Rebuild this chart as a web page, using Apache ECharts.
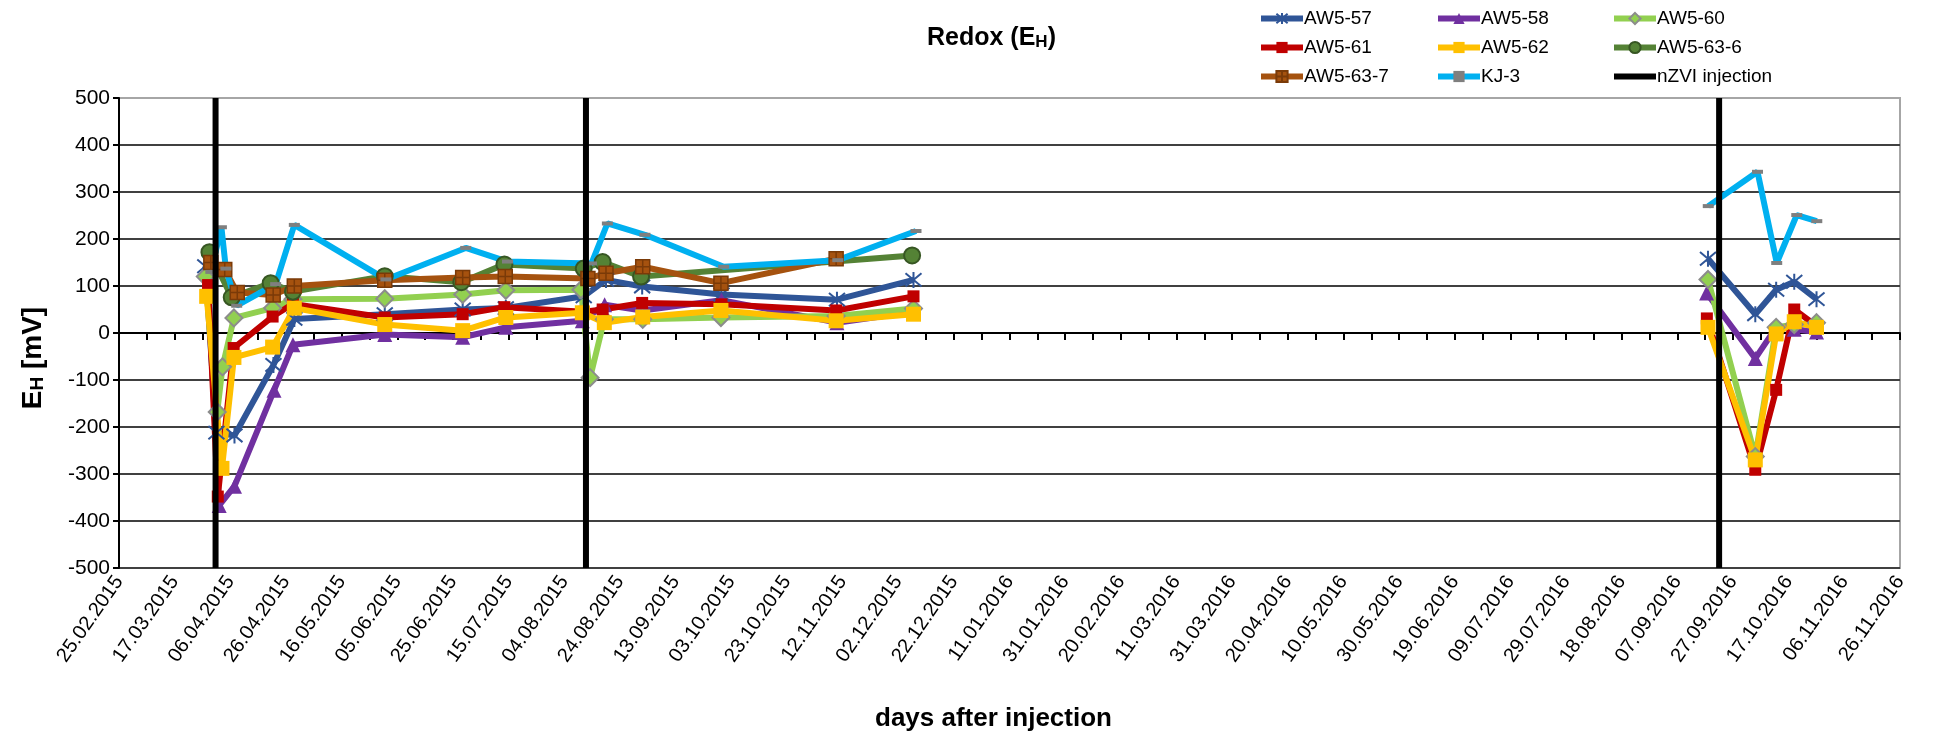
<!DOCTYPE html>
<html>
<head>
<meta charset="utf-8">
<title>Redox (EH)</title>
<script src="https://cdn.jsdelivr.net/npm/echarts@6/dist/echarts.min.js"></script>
<style>
  html, body { margin: 0; padding: 0; background: #fff; }
  #chart { width: 1939px; height: 737px; }
</style>
</head>
<body>
<div id="chart"></div>
<script>
// x = days after 25.02.2015 (first tick of the axis), y = EH in mV
// '-' breaks the line between the 2015 and 2016 campaigns
const xTickLabels = [
  '25.02.2015', '17.03.2015', '06.04.2015', '26.04.2015', '16.05.2015', '05.06.2015',
  '25.06.2015', '15.07.2015', '04.08.2015', '24.08.2015', '13.09.2015', '03.10.2015',
  '23.10.2015', '12.11.2015', '02.12.2015', '22.12.2015', '11.01.2016', '31.01.2016',
  '20.02.2016', '11.03.2016', '31.03.2016', '20.04.2016', '10.05.2016', '30.05.2016',
  '19.06.2016', '09.07.2016', '29.07.2016', '18.08.2016', '07.09.2016', '27.09.2016',
  '17.10.2016', '06.11.2016', '26.11.2016'
]

const injectionDays = [34.7, 167.8, 575]

const aw557 = [
  [31, 142], [35, -212], [41.5, -218], [55.5, -68], [63, 30], [95.5, 40], [123.5, 50],
  [139, 53], [167, 78], [175, 113], [188, 99], [216.5, 82], [258, 71], [285.5, 113], '-',
  [571, 158], [588, 40], [595.5, 92], [602, 109], [610, 72]
]
const aw558 = [
  [32, 103], [36, -367], [41.5, -326], [55.7, -122], [62.5, -25], [95.5, -3], [123.5, -9],
  [139, 12], [166.5, 26], [174.5, 60], [188, 48], [216.5, 70], [258, 22], [285.5, 45], '-',
  [570.5, 85], [588, -54], [595.5, 12], [602, 8], [610, 2]
]
const aw560 = [
  [31, 120], [35.3, -168], [37.2, -72], [41.3, 32], [55.2, 53], [62.5, 72], [95.5, 73],
  [123.5, 82], [139, 91], [166, 92], [169.3, -95], [174.4, 29], [188.2, 29], [216.3, 33],
  [257.7, 36], [285.5, 52], '-',
  [571, 114], [588, -263], [595.5, 12], [602, 18], [610, 22]
]
const aw561 = [
  [32, 102], [35.5, -348], [41.2, -32], [55.2, 35], [62.5, 62], [95.5, 33], [123.5, 40],
  [138.5, 55], [167, 45], [173.8, 50], [188, 64], [216.5, 61], [257.7, 48], [285.5, 78], '-',
  [570.6, 31], [588, -291], [595.5, -121], [602, 50], [610, 15]
]
const aw562 = [
  [31.5, 78], [37, -288], [41.3, -52], [55.2, -30], [63, 53], [95.5, 18], [123.5, 5],
  [139, 33], [166.5, 43], [174.4, 22], [188.2, 34], [216.3, 48], [257.7, 26], [285.5, 40], '-',
  [571, 12], [588, -270], [595.5, -2], [602, 24], [610, 12]
]
const aw5636 = [
  [32.5, 172], [40.5, 76], [54.5, 106], [62.5, 88], [95.5, 121], [123, 108], [138.5, 146],
  [167, 137], [173.8, 151], [187.6, 120], [285, 165]
]
const aw5637 = [
  [33, 150], [38, 135], [42.5, 86], [55.4, 81], [63, 100], [95.5, 112], [123.5, 118],
  [138.8, 120], [168.5, 116], [175, 127], [188.2, 141], [216.3, 106], [257.7, 158]
]
const kj3 = [
  [33, 130], [36.8, 225], [38.4, 137], [42.3, 58], [56.3, 104], [63, 230], [95.9, 114],
  [124.6, 181], [139.6, 152], [169.8, 148], [175.5, 233], [189, 209], [217.3, 141],
  [258.3, 155], [286.4, 217], '-',
  [571.1, 270], [588.8, 343], [595.7, 149], [602.9, 251], [610.1, 238]
]

const chart = echarts.init(document.getElementById('chart'))

const FONT = 'Liberation Sans'

// one line series with its marker
const makeSeries = (name, data, color, symbol, size, itemStyle) => ({
  name,
  type: 'line',
  data,
  connectNulls: false,
  symbol,
  symbolSize: size,
  showAllSymbol: true,
  lineStyle: { color, width: 6 },
  itemStyle: Object.assign({ color }, itemStyle || {}),
  z: 3
})

const asterisk = 'path://M0,0L10,10M10,0L0,10M5,-1L5,11'
const crossBox = 'path://M0,0H10V10H0Z M5,0V10 M0,5H10'

const series = [
  makeSeries('AW5-57', aw557, '#2F5597', asterisk, 16,
    { color: '#2F5597', borderColor: '#2F5597', borderWidth: 2 }),
  makeSeries('AW5-58', aw558, '#7030A0', 'triangle', 15),
  makeSeries('AW5-60', aw560, '#92D050', 'diamond', 17,
    { color: '#92D050', borderColor: '#8C8C8C', borderWidth: 2 }),
  makeSeries('AW5-61', aw561, '#C00000', 'rect', 12),
  makeSeries('AW5-62', aw562, '#FFC000', 'rect', 15),
  makeSeries('AW5-63-6', aw5636, '#548235', 'circle', 16,
    { color: '#548235', borderColor: '#375623', borderWidth: 2 }),
  makeSeries('AW5-63-7', aw5637, '#A5520F', crossBox, 14,
    { color: '#A5520F', borderColor: '#7A3A08', borderWidth: 1.5 }),
  makeSeries('KJ-3', kj3, '#00B0F0', 'rect', [11, 4], { color: '#7F7F7F' })
]

// vertical injection lines
injectionDays.forEach(d => {
  series.push({
    name: 'nZVI injection',
    type: 'line',
    data: [[d, -500], [d, 500]],
    symbol: 'none',
    lineStyle: { color: '#000', width: 6 },
    itemStyle: { color: '#000' },
    z: 5
  })
})

const legendBase = {
  orient: 'vertical',
  top: 4,
  itemWidth: 42,
  itemHeight: 14,
  itemGap: 10,
  lineStyle: { width: 6 },
  textStyle: { fontFamily: FONT, fontSize: 19, color: '#000', padding: [0, 0, 0, -4] }
}

// dark grid lines, the top one (500) grey like the plot frame
const gridColors = Array(10).fill('#404040').concat(['#A6A6A6'])

const option = {
  animation: false,
  backgroundColor: '#fff',
  title: {
    text: 'Redox (E{sub|H})',
    left: 922,
    top: 21,
    textStyle: {
      fontFamily: FONT,
      fontSize: 25,
      fontWeight: 'bold',
      color: '#000',
      rich: { sub: { fontFamily: FONT, fontSize: 17, fontWeight: 'bold', color: '#000', padding: [7, 0, 0, 0] } }
    }
  },
  legend: [
    Object.assign({ left: 1253, data: ['AW5-57', 'AW5-61', 'AW5-63-7'] }, legendBase),
    Object.assign({ left: 1430, data: ['AW5-58', 'AW5-62', 'KJ-3'] }, legendBase),
    Object.assign({
      left: 1606,
      data: ['AW5-60', 'AW5-63-6', { name: 'nZVI injection', icon: 'path://M0,0H42V6H0Z' }]
    }, legendBase)
  ],
  grid: {
    left: 119,
    right: 39,
    top: 98,
    bottom: 161,
    show: true,
    borderColor: '#A6A6A6',
    borderWidth: 2
  },
  xAxis: {
    type: 'value',
    min: 0,
    max: 640,
    interval: 10,
    name: 'days after injection',
    nameLocation: 'middle',
    nameGap: 138,
    nameTextStyle: {
      fontFamily: FONT, fontSize: 26, fontWeight: 'bold', color: '#000', padding: [0, 32, 0, 0]
    },
    axisLine: { lineStyle: { color: '#000', width: 2 } },
    axisTick: { show: true, length: 7, lineStyle: { color: '#000', width: 2 } },
    splitLine: { show: false },
    axisLabel: {
      rotate: 55,
      margin: 10,
      fontFamily: FONT,
      fontSize: 20,
      color: '#000',
      showMinLabel: true,
      showMaxLabel: true,
      formatter: v => (v % 20 === 0 ? xTickLabels[v / 20] : '')
    }
  },
  yAxis: {
    type: 'value',
    min: -500,
    max: 500,
    interval: 100,
    name: 'E{sub|H} [mV]',
    nameLocation: 'middle',
    nameRotate: 90,
    nameGap: 72,
    nameTextStyle: {
      fontFamily: FONT,
      fontSize: 28,
      fontWeight: 'bold',
      color: '#000',
      padding: [0, 50, 0, 0],
      rich: { sub: { fontFamily: FONT, fontSize: 19, fontWeight: 'bold', color: '#000', padding: [9, 0, 0, 0] } }
    },
    axisLine: { show: true, lineStyle: { color: '#000', width: 2 } },
    axisTick: { show: true, length: 6, lineStyle: { color: '#000', width: 2 } },
    splitLine: { show: true, lineStyle: { color: gridColors, width: 2 } },
    axisLabel: { fontFamily: FONT, fontSize: 21, color: '#000', margin: 9 }
  },
  series
}

chart.setOption(option)
window.addEventListener('resize', () => chart.resize())
</script>
</body>
</html>
